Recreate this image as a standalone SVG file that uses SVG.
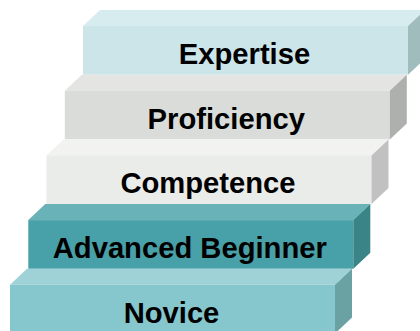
<svg xmlns="http://www.w3.org/2000/svg" width="420" height="331" viewBox="0 0 420 331">
  <defs>
    <style>
      .lbl { font-family: "Liberation Sans", Arial, sans-serif; font-weight: bold; font-size: 29.2px; fill: #000; text-anchor: middle; }
    </style>
  </defs>
  <rect width="420" height="331" fill="#ffffff"/>
  <g id="expertise" transform="translate(83,10)">
    <polygon points="0,16 17,0 342,0 325,16" fill="#d7ecef"/>
    <rect x="0" y="16" width="325" height="48.7" fill="#cce5e9"/>
    <polygon points="325,16 342,0 342,48.7 325,64.7" fill="#a0bcbd"/>
    <text class="lbl" x="161.5" y="54">Expertise</text>
  </g>
  <g id="proficiency" transform="translate(64.8,74.7)">
    <polygon points="0,16 17,0 342,0 325,16" fill="#e4e5e3"/>
    <rect x="0" y="16" width="325" height="48.7" fill="#d9dcd9"/>
    <polygon points="325,16 342,0 342,48.7 325,64.7" fill="#aeb0ad"/>
    <text class="lbl" x="161.5" y="54">Proficiency</text>
  </g>
  <g id="competence" transform="translate(46.5,139.4)">
    <polygon points="0,16 17,0 342,0 325,16" fill="#f2f3f1"/>
    <rect x="0" y="16" width="325" height="48.7" fill="#eaecea"/>
    <polygon points="325,16 342,0 342,48.7 325,64.7" fill="#c1c1c1"/>
    <text class="lbl" x="161.5" y="54">Competence</text>
  </g>
  <g id="advanced-beginner" transform="translate(28.3,204.1)">
    <polygon points="0,16 17,0 342,0 325,16" fill="#69b2b8"/>
    <rect x="0" y="16" width="325" height="48.7" fill="#48a0a8"/>
    <polygon points="325,16 342,0 342,48.7 325,64.7" fill="#3a8488"/>
    <text class="lbl" x="161.5" y="54">Advanced Beginner</text>
  </g>
  <g id="novice" transform="translate(10,268.8)">
    <polygon points="0,16 17,0 342,0 325,16" fill="#9ed2d7"/>
    <rect x="0" y="16" width="325" height="48.7" fill="#85c7cd"/>
    <polygon points="325,16 342,0 342,48.7 325,64.7" fill="#6aa2a4"/>
    <text class="lbl" x="161.5" y="54">Novice</text>
  </g>
  <g id="connectors"/>
</svg>
